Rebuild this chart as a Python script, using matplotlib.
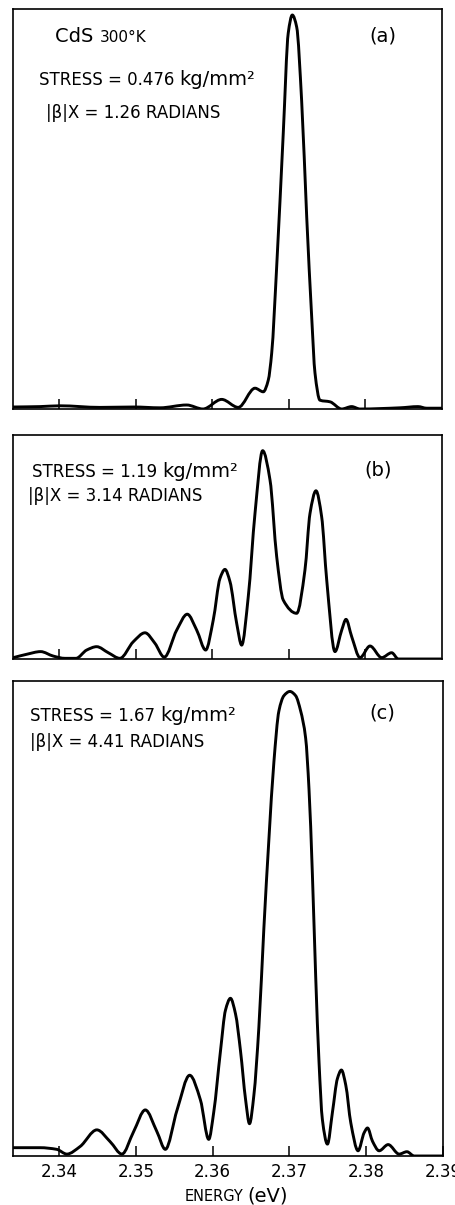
import matplotlib
matplotlib.use("Agg")
import matplotlib.pyplot as plt
import numpy as np
from matplotlib.path import Path
from matplotlib.patches import PathPatch

# ---------------- data ----------------
energy_a = [2.33400, 2.33752, 2.34013, 2.34535, 2.34979, 2.35319, 2.35667, 2.35880,
            2.36124, 2.36341, 2.36559, 2.36667, 2.36732, 2.36777, 2.36842, 2.36928,
            2.36993, 2.37046, 2.37103, 2.37168, 2.37234, 2.37299, 2.37342, 2.37407,
            2.37538, 2.37691, 2.37821, 2.37930, 2.38452, 2.38687, 2.38800, 2.39000]
intensity_a = [0.005, 0.006, 0.008, 0.004, 0.005, 0.003, 0.010, 0.000,
               0.024, 0.004, 0.052, 0.043, 0.072, 0.140, 0.356, 0.690,
               0.940, 0.985, 0.955, 0.770, 0.480, 0.230, 0.090, 0.022,
               0.018, 0.000, 0.006, 0.000, 0.003, 0.006, 0.002, 0.002]

energy_b = [2.33403, 2.33578, 2.33761, 2.33926, 2.34078, 2.34222, 2.34362, 2.34492,
            2.34644, 2.34796, 2.34970, 2.35123, 2.35253, 2.35375, 2.35537, 2.35675,
            2.35798, 2.35915, 2.36014, 2.36102, 2.36167, 2.36232, 2.36320, 2.36385,
            2.36471, 2.36559, 2.36659, 2.36755, 2.36842, 2.36928, 2.37103, 2.37211,
            2.37277, 2.37355, 2.37429, 2.37495, 2.37603, 2.37691, 2.37747, 2.37821,
            2.37930, 2.38060, 2.38213, 2.38343, 2.38430, 2.38987]
intensity_b = [0.006, 0.021, 0.033, 0.013, 0.003, 0.003, 0.040, 0.055,
               0.028, 0.003, 0.077, 0.117, 0.070, 0.008, 0.129, 0.200,
               0.129, 0.040, 0.174, 0.360, 0.400, 0.346, 0.159, 0.062,
               0.278, 0.650, 0.930, 0.799, 0.457, 0.263, 0.204, 0.397,
               0.650, 0.751, 0.635, 0.353, 0.033, 0.129, 0.177, 0.100,
               0.006, 0.058, 0.006, 0.028, 0.000, 0.000]

energy_c = [2.33403, 2.33752, 2.33970, 2.34101, 2.34274, 2.34492, 2.34666, 2.34819,
            2.34970, 2.35123, 2.35275, 2.35384, 2.35537, 2.35701, 2.35841, 2.35949,
            2.36014, 2.36102, 2.36167, 2.36232, 2.36298, 2.36363, 2.36428, 2.36480,
            2.36537, 2.36602, 2.36667, 2.36732, 2.36798, 2.36863, 2.36928, 2.37006,
            2.37081, 2.37146, 2.37211, 2.37255, 2.37299, 2.37342, 2.37385, 2.37429,
            2.37495, 2.37560, 2.37625, 2.37677, 2.37734, 2.37799, 2.37894, 2.37973,
            2.38017, 2.38082, 2.38168, 2.38286, 2.38429, 2.38530, 2.38625, 2.39000]
intensity_c = [0.0175, 0.0175, 0.014, 0.004, 0.020, 0.055, 0.030, 0.004,
               0.051, 0.097, 0.051, 0.014, 0.097, 0.170, 0.118, 0.035,
               0.092, 0.221, 0.307, 0.332, 0.299, 0.221, 0.120, 0.068,
               0.128, 0.271, 0.479, 0.665, 0.830, 0.937, 0.969, 0.978,
               0.969, 0.937, 0.880, 0.772, 0.593, 0.378, 0.199, 0.077,
               0.025, 0.092, 0.163, 0.181, 0.149, 0.070, 0.011, 0.049,
               0.059, 0.031, 0.011, 0.024, 0.004, 0.009, 0.000, 0.000]

tick_energies = [2.34, 2.35, 2.36, 2.37, 2.38]
tick_energies_c = [2.34, 2.35, 2.36, 2.37, 2.38, 2.39]
tick_labels_c = ["2.34", "2.35", "2.36", "2.37", "2.38", "2.39"]
x_range = (2.3340, 2.3900)

stress_a = ["STRESS = 0.476 ", "kg/mm²"]
phase_a = "|β|X = 1.26 RADIANS"
stress_b = ["STRESS = 1.19 ", "kg/mm²"]
phase_b = "|β|X = 3.14 RADIANS"
stress_c = ["STRESS = 1.67 ", "kg/mm²"]
phase_c = "|β|X = 4.41 RADIANS"


def smooth_path(x, y):
    """Bezier path through the read points (monotone cubic Hermite tangents)."""
    x = np.asarray(x, float)
    y = np.asarray(y, float)
    h = np.diff(x)
    d = np.diff(y) / h
    n = len(x)
    m = np.zeros(n)
    m[0], m[-1] = d[0], d[-1]
    for k in range(1, n - 1):
        if d[k - 1] * d[k] <= 0:
            m[k] = 0.0
        else:
            w1 = 2 * h[k] + h[k - 1]
            w2 = h[k] + 2 * h[k - 1]
            m[k] = (w1 + w2) / (w1 / d[k - 1] + w2 / d[k])
    verts = [(x[0], y[0])]
    codes = [Path.MOVETO]
    for k in range(n - 1):
        verts += [(x[k] + h[k] / 3, y[k] + m[k] * h[k] / 3),
                  (x[k + 1] - h[k] / 3, y[k + 1] - m[k + 1] * h[k] / 3),
                  (x[k + 1], y[k + 1])]
        codes += [Path.CURVE4] * 3
    return Path(verts, codes)


# ---------------- figure ----------------
W, H = 455, 1205
fig = plt.figure(figsize=(W / 100, H / 100), dpi=100)
plt.rcParams['font.family'] = ['DejaVu Sans']


def axes_px(left, top, right, bottom):
    return fig.add_axes([left / W, 1 - bottom / H, (right - left) / W, (bottom - top) / H])


ax_a = axes_px(13, 9, 442, 409)
ax_b = axes_px(13, 435, 442, 659)
ax_c = axes_px(13, 681, 443, 1156)

for ax, e, i in [(ax_a, energy_a, intensity_a), (ax_b, energy_b, intensity_b),
                 (ax_c, energy_c, intensity_c)]:
    patch = PathPatch(smooth_path(e, i), facecolor='none', edgecolor='black',
                      lw=2.1, joinstyle='round', capstyle='round')
    ax.add_patch(patch)
    ax.set_xlim(*x_range)
    ax.set_ylim(0, 1)
    ax.set_yticks([])
    for s in ax.spines.values():
        s.set_linewidth(1.2)
    ax.tick_params(axis='x', direction='in', length=7, width=1.1, top=False)

ax_a.set_xticks(tick_energies)
ax_a.set_xticklabels([])
ax_b.set_xticks(tick_energies)
ax_b.set_xticklabels([])
ax_c.set_xticks(tick_energies_c)
ax_c.set_xticklabels(tick_labels_c, fontsize=12)
ax_c.tick_params(axis='x', pad=5)

renderer = fig.canvas.get_renderer()


def seq_text(x_px, y_px, pieces):
    x = x_px
    for s, size in pieces:
        t = fig.text(x / W, 1 - y_px / H, s, fontsize=size, ha='left', va='baseline')
        bb = t.get_window_extent(renderer)
        x += bb.width


# panel (a)
seq_text(55, 42, [("CdS ", 14), ("300°K", 11)])
fig.text(383 / W, 1 - 36 / H, "(a)", fontsize=14, ha='center', va='center')
seq_text(39, 85, [(stress_a[0], 12), (stress_a[1], 14)])
seq_text(46, 118, [(phase_a, 12)])

# panel (b)
seq_text(32, 477, [(stress_b[0], 12), (stress_b[1], 14)])
seq_text(28, 501, [(phase_b, 12)])
fig.text(378 / W, 1 - 470 / H, "(b)", fontsize=14, ha='center', va='center')

# panel (c)
seq_text(30, 721, [(stress_c[0], 12), (stress_c[1], 14)])
seq_text(30, 747, [(phase_c, 12)])
fig.text(382 / W, 1 - 713 / H, "(c)", fontsize=14, ha='center', va='center')

# x label
fig.text(243 / W, 1 - 1201 / H, "ENERGY", fontsize=10.5, ha='right', va='baseline')
fig.text(247 / W, 1 - 1201 / H, "(eV)", fontsize=14, ha='left', va='baseline')

fig.savefig("out.png", dpi=100, facecolor='white')
